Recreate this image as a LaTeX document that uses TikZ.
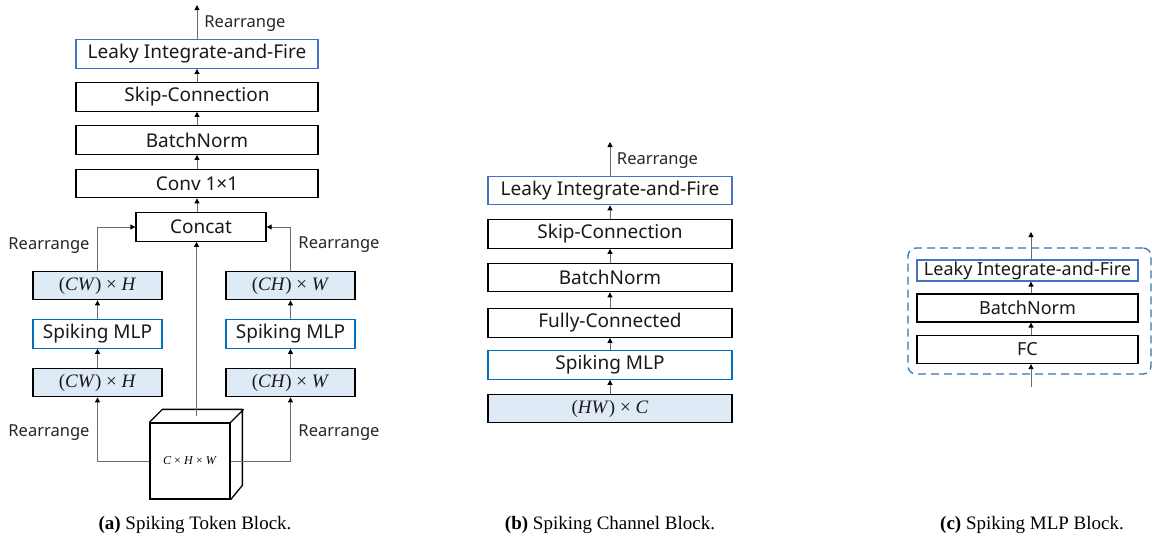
\documentclass[tikz,border=0pt]{standalone}
\usepackage{fontspec}
\setmainfont{Liberation Serif}
\newfontfamily\boxfont{Noto Sans}
\usetikzlibrary{arrows.meta,calc}
\definecolor{lblue}{HTML}{DEEBF7}
\definecolor{lifblue}{HTML}{4472C4}
\definecolor{mlpblue}{HTML}{0070C0}
\definecolor{dashblue}{HTML}{2E75B6}
\newcommand{\mv}[1]{\textit{#1}}
\begin{document}
\begin{tikzpicture}[x=1pt,y=-1pt,
  blk/.style={draw=black, line width=1.3pt, inner sep=0pt, minimum height=28.5pt,
    font=\boxfont\fontsize{19}{21}\selectfont, text=black!90},
  lif/.style={blk, draw=lifblue},
  mlp/.style={blk, draw=mlpblue},
  dat/.style={blk, fill=lblue, font=\fontsize{19}{21}\selectfont},
  conn/.style={draw=gray!85!black, line width=0.9pt, -{Triangle[length=5pt,width=5pt,black]}},
  lab/.style={font=\boxfont\fontsize{16.5}{18}\selectfont, text=black!85},
  captext/.style={font=\fontsize{19}{21}\selectfont}]
\useasboundingbox (0,0) rectangle (1152,541);

% ---------- panel (a) ----------
\node[lif, minimum width=242pt] (aLIF) at (197,54) {Leaky Integrate-and-Fire};
\node[blk, minimum width=242pt] (aSkip) at (197,97) {Skip-Connection};
\node[blk, minimum width=242pt] (aBN) at (197,140) {BatchNorm};
\node[blk, minimum width=242pt] (aConv) at (197,183.5) {Conv 1×1};
\node[blk, minimum width=130pt] (aCat) at (201,227) {Concat};
\node[dat, minimum width=129pt] (aL1) at (97.5,285.5) {(\mv{CW}) × \mv{H}};
\node[mlp, minimum width=129pt] (aL2) at (97.5,334) {Spiking MLP};
\node[dat, minimum width=129pt] (aL3) at (97.5,382.5) {(\mv{CW}) × \mv{H}};
\node[dat, minimum width=129pt] (aR1) at (290.5,285.5) {(\mv{CH}) × \mv{W}};
\node[mlp, minimum width=129pt] (aR2) at (290.5,334) {Spiking MLP};
\node[dat, minimum width=129pt] (aR3) at (290.5,382.5) {(\mv{CH}) × \mv{W}};
\node[draw, line width=1.3pt, fill=white, minimum width=80pt, minimum height=76pt, inner sep=0pt,
  font=\fontsize{12}{14}\selectfont] (cube) at (190,461) {\mv{C} × \mv{H} × \mv{W}};
\draw[line width=1.3pt, line join=round] (cube.north west) -- ++(13,-13) -- ++(80,0) -- ++(0,76) -- (cube.south east)
  (cube.north east) -- ++(13,-13);
\coordinate (ctop) at ($(cube.north)+(6.5,-6.5)$);
\coordinate (aOut) at (197,5);

\draw[conn] (cube.west) -| (aL3.south);
\draw[conn] (cube.east) -| (aR3.south);
\draw[conn] (aL3) -- (aL2);
\draw[conn] (aL2) -- (aL1);
\draw[conn] (aR3) -- (aR2);
\draw[conn] (aR2) -- (aR1);
\draw[conn] (aL1.north) |- (aCat.west);
\draw[conn] (aR1.north) |- (aCat.east);
\draw[conn] (ctop) -- (ctop |- aCat.south);
\draw[conn] (aConv.south |- aCat.north) -- (aConv.south);
\draw[conn] (aConv) -- (aBN);
\draw[conn] (aBN) -- (aSkip);
\draw[conn] (aSkip) -- (aLIF);
\draw[conn] (aLIF) -- (aOut);

\node[lab] (ra0) at (245,24) {Rearrange};
\node[lab] (ra1) at (49,246) {Rearrange};
\node[lab] (ra2) at (339,245) {Rearrange};
\node[lab] (ra3) at (49,433) {Rearrange};
\node[lab] (ra4) at (339,433) {Rearrange};
\node[captext] (capa) at (195,525) {\textbf{(a)} Spiking Token Block.};

% ---------- panel (b) ----------
\node[lif, minimum width=244pt] (bLIF) at (610,190.5) {Leaky Integrate-and-Fire};
\node[blk, minimum width=244pt] (bSkip) at (610,234) {Skip-Connection};
\node[blk, minimum width=244pt] (bBN) at (610,277.5) {BatchNorm};
\node[blk, minimum width=244pt] (bFC) at (610,323) {Fully-Connected};
\node[mlp, minimum width=244pt] (bMLP) at (610,365) {Spiking MLP};
\node[dat, minimum width=244pt] (bIn) at (610,408.5) {(\mv{HW}) × \mv{C}};
\coordinate (bOut) at (610,142);
\draw[conn] (bIn) -- (bMLP);
\draw[conn] (bMLP) -- (bFC);
\draw[conn] (bFC) -- (bBN);
\draw[conn] (bBN) -- (bSkip);
\draw[conn] (bSkip) -- (bLIF);
\draw[conn] (bLIF) -- (bOut);
\node[lab] (rb0) at (657.5,161) {Rearrange};
\node[captext] (capb) at (610,525) {\textbf{(b)} Spiking Channel Block.};

% ---------- panel (c) ----------
\node[draw=dashblue, dashed, dash pattern=on 8pt off 5pt, line width=1.3pt, rounded corners=8pt,
  minimum width=243pt, minimum height=126pt, inner sep=0pt] (cBox) at (1029.5,311) {};
\node[lif, minimum width=221pt, minimum height=21pt, font=\boxfont\fontsize{18}{20}\selectfont] (cLIF) at (1027.5,270.5) {Leaky Integrate-and-Fire};
\node[blk, minimum width=221pt, minimum height=28pt, font=\boxfont\fontsize{18}{20}\selectfont] (cBN) at (1027.5,308) {BatchNorm};
\node[blk, minimum width=221pt, minimum height=28pt, font=\boxfont\fontsize{18}{20}\selectfont] (cFC) at (1027.5,349.5) {FC};
\coordinate (cIn) at (1031,387);
\coordinate (cOut) at (1031,232);
\draw[conn] (cIn) -- (cIn |- cFC.south);
\draw[conn] (cIn |- cFC.north) -- (cIn |- cBN.south);
\draw[conn] (cIn |- cBN.north) -- (cIn |- cLIF.south);
\draw[conn] (cIn |- cLIF.north) -- (cOut);
\node[captext] (capc) at (1032,525) {\textbf{(c)} Spiking MLP Block.};
\end{tikzpicture}
\end{document}
